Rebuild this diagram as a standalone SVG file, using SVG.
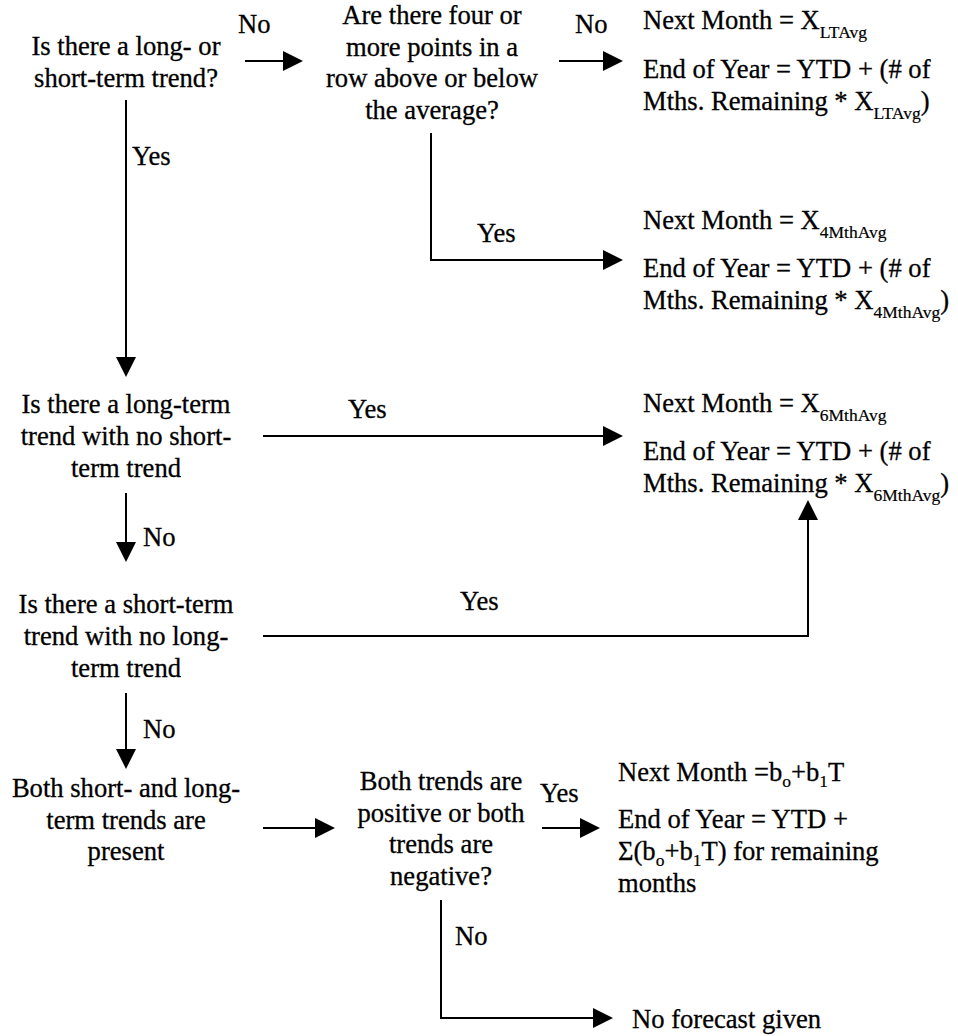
<svg xmlns="http://www.w3.org/2000/svg" width="958" height="1036" viewBox="0 0 958 1036">
<style>
text{font-family:'Liberation Serif','Times New Roman',serif;font-size:26.6px;fill:#000;stroke:#000;stroke-width:0.3px}
.c{text-anchor:middle}
.sub{font-size:17.5px;stroke-width:0.2px}
.ln{fill:none;stroke:#000;stroke-width:2}
</style>
<defs>
<marker id="ah" markerUnits="userSpaceOnUse" markerWidth="20" markerHeight="20" refX="2" refY="10" orient="auto" viewBox="0 0 20 20">
<path d="M0,0 L20,10 L0,20 z" fill="#000"/>
</marker>
</defs>
<rect width="958" height="1036" fill="#fff"/>
<g id="connectors">
<path class="ln" d="M245,61 H285" marker-end="url(#ah)"/>
<path class="ln" d="M126,100 V359" marker-end="url(#ah)"/>
<path class="ln" d="M559,61 H605" marker-end="url(#ah)"/>
<path class="ln" d="M431,133 V260 H605" marker-end="url(#ah)"/>
<path class="ln" d="M263,436 H605" marker-end="url(#ah)"/>
<path class="ln" d="M126,493 V544" marker-end="url(#ah)"/>
<path class="ln" d="M263,636 H808 V518" marker-end="url(#ah)"/>
<path class="ln" d="M126,693 V751" marker-end="url(#ah)"/>
<path class="ln" d="M263,828 H317" marker-end="url(#ah)"/>
<path class="ln" d="M542,828 H582" marker-end="url(#ah)"/>
<path class="ln" d="M441,900 V1018 H595" marker-end="url(#ah)"/>
</g>
<g id="labels">
<text x="238" y="33">No</text>
<text x="132" y="165">Yes</text>
<text x="575" y="33">No</text>
<text x="477" y="242">Yes</text>
<text x="348" y="418">Yes</text>
<text x="143" y="546">No</text>
<text x="460" y="610">Yes</text>
<text x="143" y="738">No</text>
<text x="540" y="802">Yes</text>
<text x="455" y="945">No</text>
</g>
<g id="n1">
<text class="c" x="126" y="55">Is there a long- or</text>
<text class="c" x="126" y="87">short-term trend?</text>
</g>
<g id="n2">
<text class="c" x="432" y="24">Are there four or</text>
<text class="c" x="432" y="55.5">more points in a</text>
<text class="c" x="432" y="87">row above or below</text>
<text class="c" x="432" y="118.5">the average?</text>
</g>
<g id="n3">
<text class="c" x="126" y="413">Is there a long-term</text>
<text class="c" x="126" y="445">trend with no short-</text>
<text class="c" x="126" y="477">term trend</text>
</g>
<g id="n4">
<text class="c" x="126" y="613">Is there a short-term</text>
<text class="c" x="126" y="645">trend with no long-</text>
<text class="c" x="126" y="677">term trend</text>
</g>
<g id="n5">
<text class="c" x="126" y="797">Both short- and long-</text>
<text class="c" x="126" y="828.5">term trends are</text>
<text class="c" x="126" y="860">present</text>
</g>
<g id="n6">
<text class="c" x="441" y="790">Both trends are</text>
<text class="c" x="441" y="822">positive or both</text>
<text class="c" x="441" y="853">trends are</text>
<text class="c" x="441" y="885">negative?</text>
</g>
<g id="r1">
<text x="643" y="29">Next Month = X<tspan class="sub" dy="9">LTAvg</tspan></text>
<text x="643" y="78">End of Year = YTD + (# of</text>
<text x="643" y="110">Mths. Remaining * X<tspan class="sub" dy="9">LTAvg</tspan><tspan dy="-9">)</tspan></text>
</g>
<g id="r2">
<text x="643" y="229">Next Month = X<tspan class="sub" dy="9">4MthAvg</tspan></text>
<text x="643" y="277">End of Year = YTD + (# of</text>
<text x="643" y="309">Mths. Remaining * X<tspan class="sub" dy="9">4MthAvg</tspan><tspan dy="-9">)</tspan></text>
</g>
<g id="r3">
<text x="643" y="412">Next Month = X<tspan class="sub" dy="9">6MthAvg</tspan></text>
<text x="643" y="460">End of Year = YTD + (# of</text>
<text x="643" y="492">Mths. Remaining * X<tspan class="sub" dy="9">6MthAvg</tspan><tspan dy="-9">)</tspan></text>
</g>
<g id="r4">
<text x="618" y="781">Next Month =b<tspan class="sub" dy="6">o</tspan><tspan dy="-6">+b</tspan><tspan class="sub" dy="6">1</tspan><tspan dy="-6">T</tspan></text>
<text x="618" y="828">End of Year = YTD +</text>
<text x="618" y="860">Σ(b<tspan class="sub" dy="6">o</tspan><tspan dy="-6">+b</tspan><tspan class="sub" dy="6">1</tspan><tspan dy="-6">T) for remaining</tspan></text>
<text x="618" y="892">months</text>
</g>
<g id="r5">
<text x="632" y="1028">No forecast given</text>
</g>
</svg>
